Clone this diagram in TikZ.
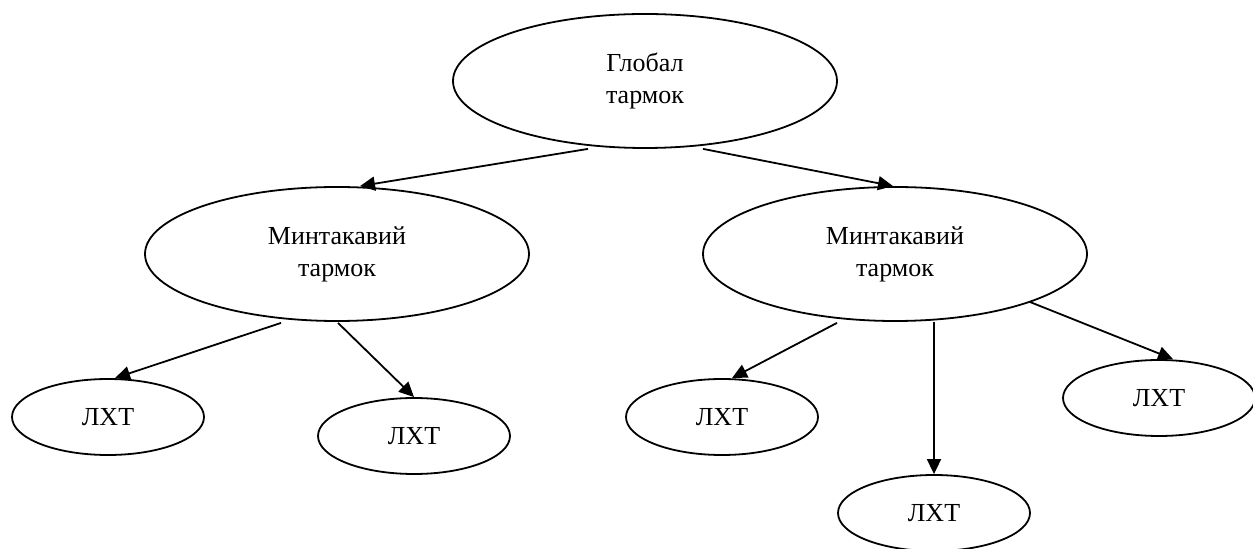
\documentclass[tikz,border=0pt]{standalone}
\usepackage{fontspec}
\setmainfont{Liberation Serif}
\usetikzlibrary{shapes.geometric,arrows.meta,calc}
\tikzset{
  bubble/.style={draw, ellipse, line width=0.9pt, inner sep=0pt, align=center,
    font=\fontsize{13}{16}\selectfont},
  bigbubble/.style={bubble, minimum width=192pt, minimum height=67pt},
  leaf/.style={bubble, minimum width=96pt, minimum height=38pt},
  arr/.style={line width=0.9pt, -{Triangle[length=7.5pt,width=7pt]}},
}
\begin{document}
\begin{tikzpicture}[x=0.5pt,y=-0.5pt]
\useasboundingbox (0,0) rectangle (1253,549);
\node[bigbubble] (top) at (645,81) {Глобал\\тармок};
\node[bigbubble] (lm) at (337,254) {Минтакавий\\тармок};
\node[bigbubble] (rm) at (895,254) {Минтакавий\\тармок};
\node[leaf] (l1) at (108,417) {ЛХТ};
\node[leaf] (l2) at (414,436) {ЛХТ};
\node[leaf] (l3) at (722,417) {ЛХТ};
\node[leaf] (l4) at (934,513) {ЛХТ};
\node[leaf] (l5) at (1159,398) {ЛХТ};
\draw[arr] ($(top.south)+(-57,0)$) -- ($(lm.north)+(23,0)$);
\draw[arr] ($(top.south)+(58,0)$) -- ($(rm.north)+(-2,0)$);
\draw[arr] ($(lm.south)+(-56,1)$) -- ($(l1.north)+(7,0)$);
\draw[arr] ($(lm.south)+(1,1)$) -- (l2.north);
\draw[arr] ($(rm.south)+(-58,1)$) -- ($(l3.north)+(10,0)$);
\draw[arr] ($(rm.south)+(39,0)$) -- ($(l4.north)+(0,0)$);
\draw[arr] ($(rm.center)+(135,48)$) -- ($(l5.north)+(14,0)$);
\end{tikzpicture}
\end{document}
